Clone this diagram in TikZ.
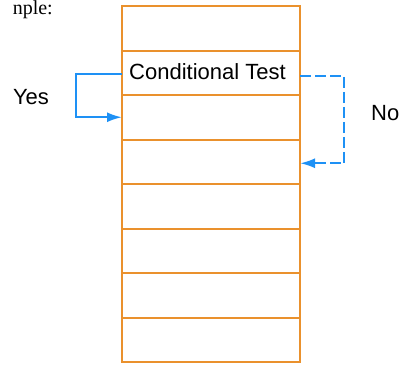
\documentclass[tikz,border=0pt]{standalone}
\usepackage{fontspec}
\setmainfont{Liberation Sans}
\newfontfamily\serifpart{Liberation Serif}
\usetikzlibrary{arrows.meta}
\definecolor{boxorange}{RGB}{234,145,45}
\definecolor{arrowblue}{RGB}{30,145,245}
\tikzset{
  rowbox/.style={draw=boxorange, line width=2pt, minimum width=178pt, minimum height=44.5pt, inner sep=0pt, outer sep=0pt, anchor=north west},
  flowarrow/.style={draw=arrowblue, line width=2.2pt, -{Latex[length=15pt,width=10pt]}},
  lbl/.style={font=\fontsize{22}{26}\selectfont, inner sep=0pt},
}
\begin{document}
\begin{tikzpicture}[x=1pt,y=-1pt]
\useasboundingbox (0,0) rectangle (399,365);
\node[font=\serifpart\fontsize{20}{24}\selectfont, anchor=base east, inner sep=0pt] (cap) at (53,14.5) {nple:};
\node[rowbox] (r1) at (122,6) {};
\node[rowbox] (r2) at (122,50.5) {};
\node[rowbox] (r3) at (122,95) {};
\node[rowbox] (r4) at (122,139.5) {};
\node[rowbox] (r5) at (122,184) {};
\node[rowbox] (r6) at (122,228.5) {};
\node[rowbox] (r7) at (122,273) {};
\node[rowbox] (r8) at (122,317.5) {};
\node[lbl] (ct) at (207.5,72) {Conditional Test};
\node[lbl] (yes) at (31,97) {Yes};
\node[lbl, anchor=west] (no) at (371,113) {No};
\draw[flowarrow] ([yshift=-1pt]r2.west) -- ++(-46,0) |- (r3.west);
\draw[flowarrow, dash pattern=on 11pt off 4pt] ([yshift=-3pt]r2.east) -- ++(44,0) |- ([yshift=-1.5pt]r4.east);
\end{tikzpicture}
\end{document}
